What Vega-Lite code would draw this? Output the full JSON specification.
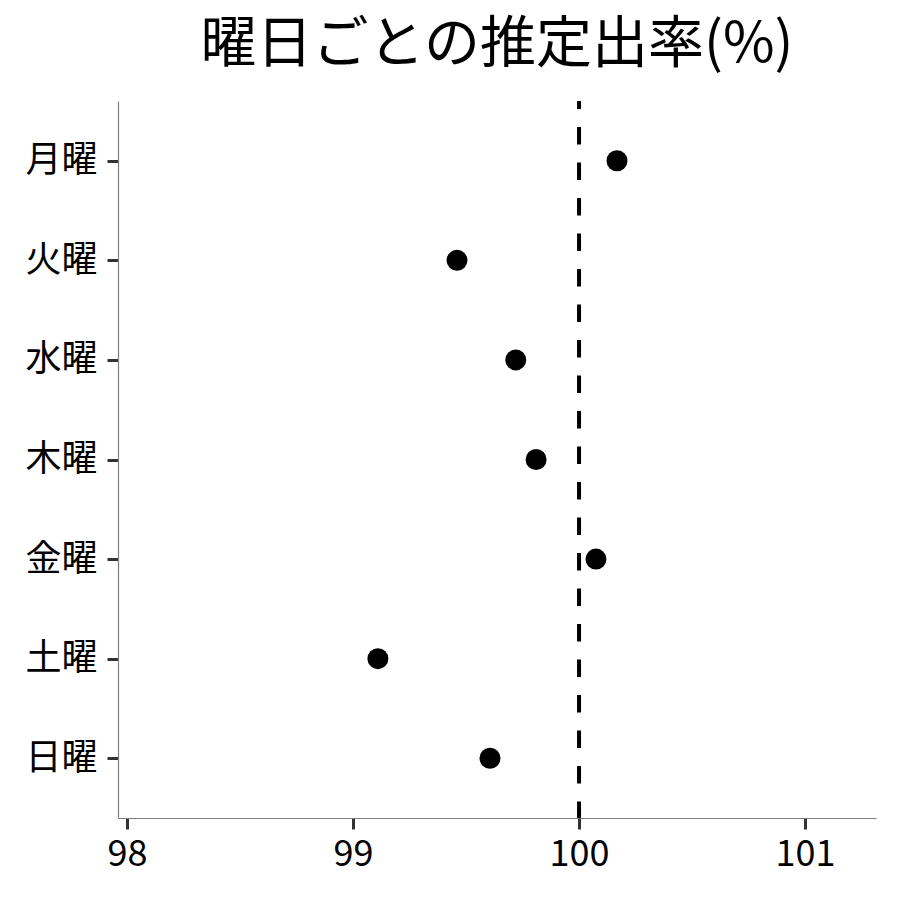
{
  "$schema": "https://vega.github.io/schema/vega-lite/v6.json",
  "autosize": "none",
  "padding": {"left": 118, "top": 101, "right": 24, "bottom": 82},
  "width": 758,
  "height": 717,
  "background": "white",
  "title": {
    "text": "曜日ごとの推定出率(%)",
    "font": "Noto Sans CJK JP",
    "fontSize": 56,
    "fontWeight": "normal",
    "color": "black",
    "anchor": "middle",
    "offset": 25
  },
  "config": {
    "view": {"stroke": null},
    "axis": {
      "grid": false,
      "domainColor": "#7f7f7f",
      "domainWidth": 1.2,
      "tickColor": "#333333",
      "tickWidth": 3,
      "tickSize": 11,
      "labelFont": "Noto Sans CJK JP",
      "labelFontSize": 36,
      "labelColor": "black",
      "title": null
    }
  },
  "data": {
    "values": [
      {"day": "月曜", "rate": 100.168},
      {"day": "火曜", "rate": 99.46},
      {"day": "水曜", "rate": 99.72},
      {"day": "木曜", "rate": 99.81},
      {"day": "金曜", "rate": 100.075},
      {"day": "土曜", "rate": 99.11},
      {"day": "日曜", "rate": 99.606}
    ]
  },
  "encoding": {
    "y": {
      "field": "day",
      "type": "nominal",
      "sort": ["月曜", "火曜", "水曜", "木曜", "金曜", "土曜", "日曜"],
      "scale": {"type": "point", "padding": 0.6},
      "axis": {"labelPadding": 10}
    }
  },
  "layer": [
    {
      "data": {"values": [{"ref": 100}]},
      "mark": {
        "type": "rule",
        "color": "black",
        "strokeWidth": 4,
        "strokeDash": [17.5, 18],
        "strokeDashOffset": 9.5
      },
      "encoding": {
        "x": {"field": "ref", "type": "quantitative", "scale": {"domain": [97.96, 101.314], "zero": false, "nice": false}},
        "y": null
      }
    },
    {
      "mark": {"type": "point", "filled": true, "color": "black", "opacity": 1, "size": 440},
      "encoding": {
        "x": {
          "field": "rate",
          "type": "quantitative",
          "scale": {"domain": [97.96, 101.314], "zero": false, "nice": false},
          "axis": {"values": [98, 99, 100, 101], "format": "d", "labelPadding": 8, "labelFlush": false}
        }
      }
    }
  ]
}
